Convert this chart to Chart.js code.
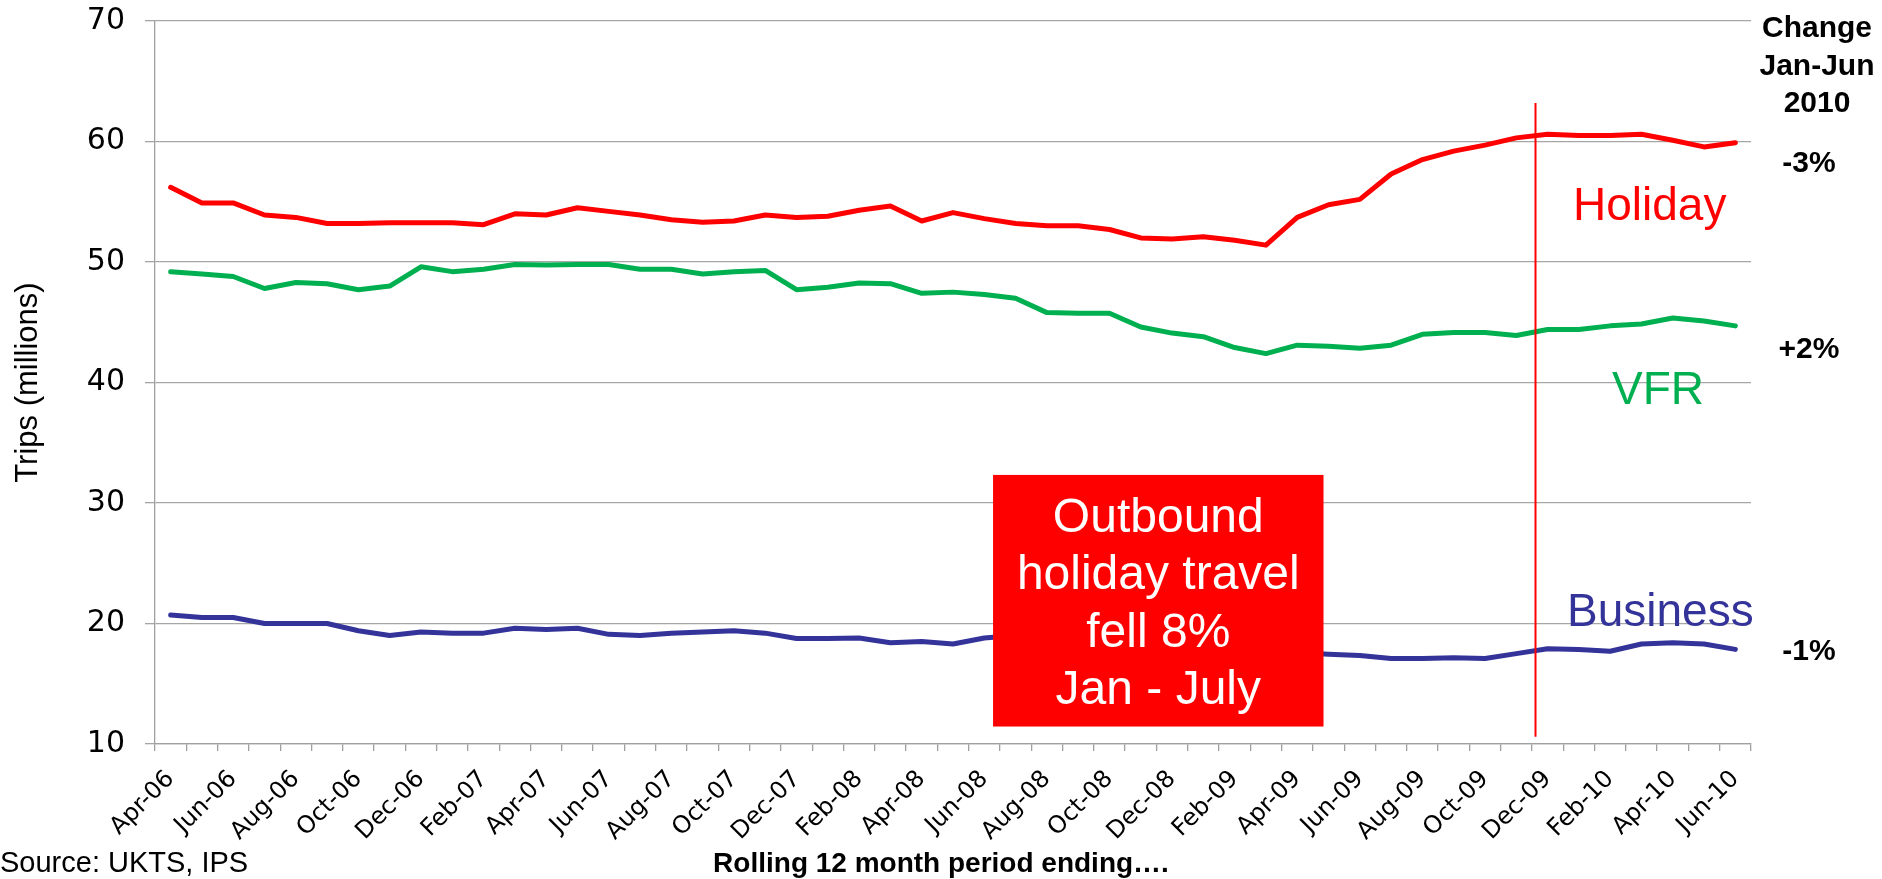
<!DOCTYPE html>
<html>
<head>
<meta charset="utf-8">
<title>Outbound trips by purpose</title>
<script src="https://cdn.jsdelivr.net/npm/chart.js@4.4.1/dist/chart.umd.min.js"></script>
<style>
  body { margin: 0; background: #fff; }
  canvas { display: block; }
</style>
</head>
<body>
<canvas id="chart" width="1882" height="879"></canvas>
<script>
const months = [
  "Apr-06", "May-06", "Jun-06", "Jul-06", "Aug-06", "Sep-06", "Oct-06", "Nov-06", "Dec-06",
  "Jan-07", "Feb-07", "Mar-07", "Apr-07", "May-07", "Jun-07", "Jul-07", "Aug-07", "Sep-07",
  "Oct-07", "Nov-07", "Dec-07", "Jan-08", "Feb-08", "Mar-08", "Apr-08", "May-08", "Jun-08",
  "Jul-08", "Aug-08", "Sep-08", "Oct-08", "Nov-08", "Dec-08", "Jan-09", "Feb-09", "Mar-09",
  "Apr-09", "May-09", "Jun-09", "Jul-09", "Aug-09", "Sep-09", "Oct-09", "Nov-09", "Dec-09",
  "Jan-10", "Feb-10", "Mar-10", "Apr-10", "May-10", "Jun-10"
];

// rolling 12 month totals, millions of trips
const holiday = [
  56.2, 54.9, 54.9, 53.9, 53.7, 53.2, 53.2, 53.25, 53.25, 53.25, 53.1, 54.0, 53.9,
  54.5, 54.2, 53.9, 53.5, 53.3, 53.4, 53.9, 53.7, 53.8, 54.3, 54.65, 53.4, 54.1,
  53.6, 53.2, 53.0, 53.0, 52.7, 52.0, 51.9, 52.1, 51.8, 51.4, 53.7, 54.75, 55.2,
  57.3, 58.5, 59.2, 59.7, 60.3, 60.6, 60.5, 60.5, 60.6, 60.1, 59.55, 59.9
];
const vfr = [
  49.2, 49.0, 48.8, 47.8, 48.3, 48.2, 47.7, 48.0, 49.6, 49.2, 49.4, 49.8, 49.75,
  49.8, 49.8, 49.4, 49.4, 49.0, 49.2, 49.3, 47.7, 47.9, 48.25, 48.2, 47.4, 47.5,
  47.3, 47.0, 45.8, 45.75, 45.75, 44.6, 44.1, 43.8, 42.9, 42.4, 43.1, 43.0, 42.85,
  43.1, 44.0, 44.15, 44.15, 43.9, 44.4, 44.4, 44.7, 44.85, 45.35, 45.1, 44.7
];
const business = [
  20.7, 20.5, 20.5, 20.0, 20.0, 20.0, 19.4, 19.0, 19.3, 19.2, 19.2, 19.6, 19.5,
  19.6, 19.1, 19.0, 19.2, 19.3, 19.4, 19.2, 18.75, 18.75, 18.8, 18.4, 18.5, 18.3,
  18.8, 19.0, 18.8, 18.6, 18.4, 18.2, 18.0, 17.9, 17.8, 17.7, 17.6, 17.45, 17.35,
  17.1, 17.1, 17.15, 17.1, 17.5, 17.9, 17.85, 17.7, 18.3, 18.4, 18.3, 17.85
];

const yTicks = [10, 20, 30, 40, 50, 60, 70];
const changeLabels = ["-3%", "+2%", "-1%"];

// annotations drawn on top of the lines
const notes = {
  id: "notes",
  afterDatasetsDraw(chart) {
    const ctx = chart.ctx;
    const x = chart.scales.x;
    const y = chart.scales.y;
    ctx.save();

    // Dec-09 marker line
    const lx = Math.round(x.getPixelForValue(43.6)) + 0.5;
    ctx.strokeStyle = "#ff0000";
    ctx.lineWidth = 2;
    ctx.beginPath();
    ctx.moveTo(lx, y.getPixelForValue(63.2));
    ctx.lineTo(lx, y.getPixelForValue(10.6));
    ctx.stroke();

    // red callout box
    const bx1 = x.getPixelForValue(26.28);
    const bx2 = x.getPixelForValue(36.84);
    const by1 = y.getPixelForValue(32.33);
    const by2 = y.getPixelForValue(11.45);
    ctx.fillStyle = "#ff0000";
    ctx.fillRect(bx1, by1, bx2 - bx1, by2 - by1);

    ctx.fillStyle = "#ffffff";
    ctx.font = "48px 'Liberation Sans', Arial, sans-serif";
    ctx.textAlign = "center";
    ctx.textBaseline = "alphabetic";
    const cx = (bx1 + bx2) / 2;
    ["Outbound", "holiday travel", "fell 8%", "Jan - July"].forEach((t, i) => {
      ctx.fillText(t, cx, by1 + 57 + i * 57.5);
    });
    ctx.restore();
  },
  afterDraw(chart) {
    const ctx = chart.ctx;
    ctx.save();
    ctx.textBaseline = "alphabetic";

    // series names
    ctx.font = "46px 'Liberation Sans', Arial, sans-serif";
    ctx.textAlign = "left";
    ctx.fillStyle = "#ff0000";
    ctx.fillText("Holiday", 1573, 220);
    ctx.fillStyle = "#00b050";
    ctx.fillText("VFR", 1612, 404);
    ctx.fillStyle = "#333399";
    ctx.fillText("Business", 1567, 626);

    // change column
    ctx.fillStyle = "#000";
    ctx.font = "bold 30px 'Liberation Sans', Arial, sans-serif";
    ctx.textAlign = "center";
    ctx.fillText("Change", 1817, 37);
    ctx.fillText("Jan-Jun", 1817, 75);
    ctx.fillText("2010", 1817, 112);
    ctx.fillText(changeLabels[0], 1809, 172);
    ctx.fillText(changeLabels[1], 1809, 358);
    ctx.fillText(changeLabels[2], 1809, 660);

    // footer
    ctx.font = "bold 28px 'Liberation Sans', Arial, sans-serif";
    ctx.fillText("Rolling 12 month period ending\u2026.", 941, 872);
    ctx.font = "29px 'Liberation Sans', Arial, sans-serif";
    ctx.textAlign = "left";
    ctx.fillText("Source: UKTS, IPS", 0, 872);
    ctx.restore();
  }
};

const line = (data, color) => ({
  data: data,
  borderColor: color,
  borderWidth: 5,
  pointRadius: 0,
  tension: 0,
  borderCapStyle: "round",
  borderJoinStyle: "round",
  fill: false
});

new Chart(document.getElementById("chart"), {
  type: "line",
  data: {
    labels: months,
    datasets: [
      line(holiday, "#ff0000"),
      line(vfr, "#00b050"),
      line(business, "#333399")
    ]
  },
  options: {
    responsive: false,
    animation: false,
    layout: { padding: { top: 21, right: 131, left: 0, bottom: 0 } },
    plugins: {
      legend: { display: false },
      tooltip: { enabled: false }
    },
    scales: {
      x: {
        offset: true,
        afterFit(scale) {
          scale.height = 135;
          scale.paddingLeft = 0;
          scale.paddingRight = 0;
        },
        grid: {
          offset: true,
          drawOnChartArea: false,
          drawTicks: true,
          tickLength: 7,
          color: "#a0a0a0",
          lineWidth: 1.3
        },
        border: { color: "#a0a0a0", width: 1.3 },
        ticks: {
          autoSkip: false,
          minRotation: 45,
          maxRotation: 45,
          padding: 14,
          color: "#000",
          font: { family: "'DejaVu Sans', Verdana, sans-serif", size: 24 },
          callback: (v, i) => (i % 2 === 0 ? months[i] : "")
        }
      },
      y: {
        min: 10,
        max: 70,
        afterFit(scale) {
          scale.width = 155;
          scale.paddingTop = 0;
          scale.paddingBottom = 0;
        },
        afterBuildTicks(scale) { scale.ticks = yTicks.map(v => ({ value: v })); },
        grid: { color: "#a6a6a6", lineWidth: 1.3, tickLength: 10 },
        border: { color: "#a0a0a0", width: 1.3 },
        ticks: {
          padding: 20,
          color: "#000",
          font: { family: "'DejaVu Sans', Verdana, sans-serif", size: 30 }
        },
        title: {
          display: true,
          text: "Trips (millions)",
          color: "#000",
          padding: { top: 10, bottom: 0 },
          font: { family: "'Liberation Sans', Arial, sans-serif", size: 31 }
        }
      }
    }
  },
  plugins: [notes]
});
</script>
</body>
</html>
